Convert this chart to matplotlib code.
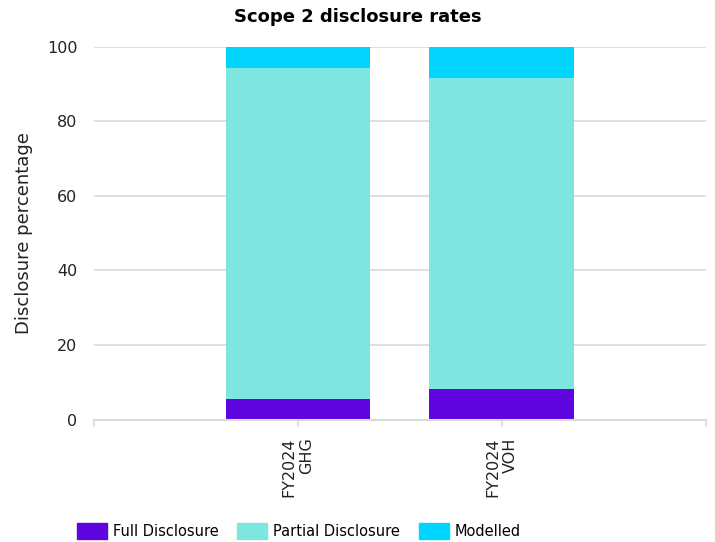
import matplotlib
matplotlib.use("Agg")
import matplotlib.pyplot as plt
from matplotlib.patches import Patch

# data
categories = ["FY2024\nGHG", "FY2024\nVOH"]
full = [5.5, 8.2]
partial = [88.8, 83.4]
modelled = [5.7, 8.4]

series_names = ["Full Disclosure", "Partial Disclosure", "Modelled"]
colors = ["#5f06e0", "#7fe6df", "#00d4ff"]

plt.rcParams['font.family'] = ['DejaVu Sans']

fig = plt.figure(figsize=(7.15, 5.42), dpi=100)
ax = fig.add_axes([0.1315, 0.226, 0.8555, 0.688])

pos = [1, 2]
w = 0.71
ax.bar(pos, full, w, color=colors[0], zorder=3)
ax.bar(pos, partial, w, bottom=full, color=colors[1], zorder=3)
bottom2 = [a + b for a, b in zip(full, partial)]
ax.bar(pos, modelled, w, bottom=bottom2, color=colors[2], zorder=3)

ax.set_xlim(0, 3)
ax.set_ylim(0, 100)
ax.set_yticks([0, 20, 40, 60, 80, 100])
ax.set_xticks([0, 1, 2, 3])
ax.set_xticklabels([""] + categories + [""], rotation=90, fontsize=11.5,
                   color="#222222", multialignment="right")
ax.tick_params(axis="x", length=5, color="#d9d9d9", width=1.2, pad=8)
ax.tick_params(axis="y", length=0, labelsize=11.5, labelcolor="#222222", pad=12)

ax.grid(axis="y", color="#d9d9d9", linewidth=1.2, zorder=0)
for s in ["top", "right", "left"]:
    ax.spines[s].set_visible(False)
ax.spines["bottom"].set_color("#d9d9d9")
ax.spines["bottom"].set_linewidth(1.5)
ax.spines["bottom"].set_zorder(4)

ax.set_ylabel("Disclosure percentage", fontsize=13, color="#222222", labelpad=10)
fig.text(0.5, 0.968, "Scope 2 disclosure rates", ha="center", va="center",
         fontsize=13, fontweight="bold")

handles = [Patch(color=c, label=n) for c, n in zip(colors, series_names)]
fig.legend(handles=handles, loc="center", bbox_to_anchor=(0.418, 0.02), ncol=3,
           frameon=False, fontsize=10.5, handlelength=2.05, handleheight=1.3,
           columnspacing=1.3, handletextpad=0.4)

fig.savefig("out.png", dpi=100)
